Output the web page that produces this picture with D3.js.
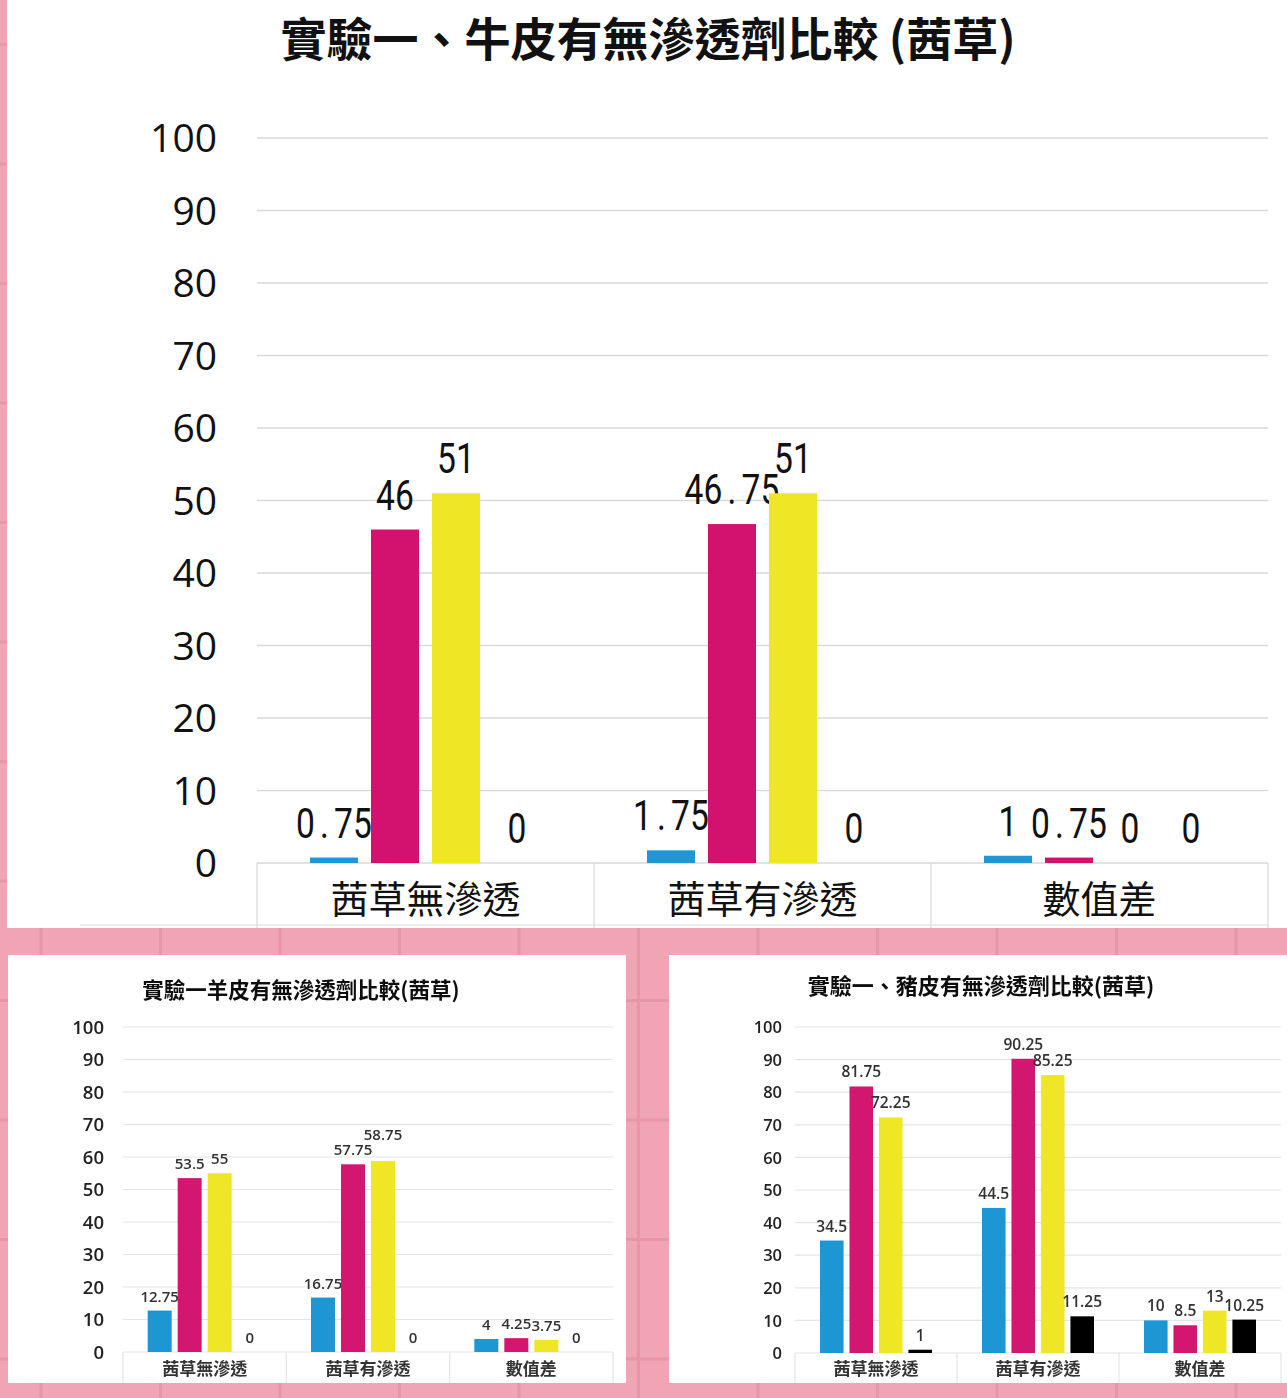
<!DOCTYPE html>
<html>
<head>
<meta charset="utf-8">
<script src="https://cdn.jsdelivr.net/npm/d3@7"></script>
<style>
  html, body { margin: 0; padding: 0; background: #f1a5b4; }
  svg { display: block; }
</style>
</head>
<body>
<svg id="page" width="1287" height="1398"></svg>
<script>
// ---- data ----
const categories = ["茜草無滲透", "茜草有滲透", "數值差"];
const seriesNames = ["s1", "s2", "s3", "s4"];
const seriesColors = ["#1f97d4", "#d3126f", "#efe725", "#050505"];
const yTicks = [0, 10, 20, 30, 40, 50, 60, 70, 80, 90, 100];

// 牛皮 (cow hide)
const cowTitle = "實驗一、牛皮有無滲透劑比較 (茜草)";
const cowBlue    = [0.75, 1.75, 1];
const cowMagenta = [46, 46.75, 0.75];
const cowYellow  = [51, 51, 0];
const cowBlack   = [0, 0, 0];

// 羊皮 (sheep hide)
const sheepTitle = "實驗一羊皮有無滲透劑比較(茜草)";
const sheepBlue    = [12.75, 16.75, 4];
const sheepMagenta = [53.5, 57.75, 4.25];
const sheepYellow  = [55, 58.75, 3.75];
const sheepBlack   = [0, 0, 0];

// 豬皮 (pig hide)
const pigTitle = "實驗一、豬皮有無滲透劑比較(茜草)";
const pigBlue    = [34.5, 44.5, 10];
const pigMagenta = [81.75, 90.25, 8.5];
const pigYellow  = [72.25, 85.25, 13];
const pigBlack   = [1, 11.25, 10.25];

const svg = d3.select("#page");
const W = 1287, H = 1398;

const defs = svg.append("defs");
defs.append("filter").attr("id", "soft")
  .attr("x", "-5%").attr("y", "-5%").attr("width", "110%").attr("height", "110%")
  .append("feGaussianBlur").attr("stdDeviation", 0.45);

// ---- pink grid-paper backdrop ----
svg.append("rect").attr("width", W).attr("height", H).attr("fill", "#f1a4b3");
const gridStep = 119.5;
const bg = svg.append("g").attr("stroke", "#e796a7").attr("stroke-width", 3);
for (let x = 41; x < W; x += gridStep) {
  bg.append("line").attr("x1", x).attr("x2", x).attr("y1", 0).attr("y2", H);
}
for (let y = 1359; y > 0; y -= gridStep) {
  bg.append("line").attr("x1", 0).attr("x2", W).attr("y1", y).attr("y2", y);
}

// ---- white cards ----
const cards = [
  { x: 7, y: 0, w: 1280, h: 928 },
  { x: 8, y: 955, w: 618, h: 428 },
  { x: 669, y: 955, w: 618, h: 428 }
];
svg.selectAll("rect.card").data(cards).join("rect")
  .attr("class", "card")
  .attr("x", d => d.x).attr("y", d => d.y)
  .attr("width", d => d.w).attr("height", d => d.h)
  .attr("fill", "#ffffff");

// ---- grouped bar chart ----
function drawChart(cfg) {
  const g = svg.append("g");
  if (cfg.soft) g.attr("filter", "url(#soft)");
  const series = [cfg.blue, cfg.magenta, cfg.yellow, cfg.black];

  const y = d3.scaleLinear().domain([0, 100]).range([cfg.y0, cfg.y100]);
  const x0 = d3.scaleBand().domain(categories).range([cfg.xL, cfg.xR]).padding(0);
  const bw = x0.bandwidth();
  const x1 = d3.scaleBand().domain(seriesNames)
    .range([(bw - cfg.groupW) / 2, (bw + cfg.groupW) / 2])
    .paddingInner(cfg.barGap).paddingOuter(0);

  // title
  g.append("text")
    .attr("x", cfg.titleX).attr("y", cfg.titleY)
    .attr("text-anchor", "middle").attr("dominant-baseline", "central")
    .attr("font-family", "'Noto Sans CJK TC', 'Noto Sans CJK SC', sans-serif")
    .attr("font-weight", 700).attr("font-size", cfg.titleSize)
    .attr("fill", "#111")
    .text(cfg.title);

  // gridlines
  g.append("g").selectAll("line").data(yTicks).join("line")
    .attr("x1", cfg.xL).attr("x2", cfg.xR)
    .attr("y1", d => y(d)).attr("y2", d => y(d))
    .attr("stroke", cfg.gridColor).attr("stroke-width", cfg.gridWidth);

  // y axis labels
  const yAxis = d3.axisLeft(y).tickValues(yTicks).tickSize(0).tickPadding(0);
  const ya = g.append("g").attr("transform", `translate(${cfg.tickX},0)`).call(yAxis);
  ya.select(".domain").remove();
  ya.selectAll("text")
    .attr("font-family", cfg.tickFont).attr("font-size", cfg.tickSize)
    .attr("font-weight", cfg.tickWeight)
    .attr("fill", cfg.tickColor)
    .attr("dy", "0.35em");

  // category box below the baseline
  const box = g.append("g").attr("stroke", cfg.gridColor).attr("stroke-width", 1.2);
  const dividers = categories.map(c => x0(c)).concat([cfg.xR]);
  box.selectAll("line").data(dividers).join("line")
    .attr("x1", d => d).attr("x2", d => d)
    .attr("y1", y(0)).attr("y2", cfg.boxBottom);
  if (cfg.boxBaseLine) {
    g.append("line")
      .attr("x1", cfg.boxBaseLine.x1).attr("x2", cfg.xR)
      .attr("y1", cfg.boxBaseLine.y).attr("y2", cfg.boxBaseLine.y)
      .attr("stroke", cfg.gridColor).attr("stroke-width", 1.2);
  }

  // category labels
  g.append("g").selectAll("text").data(categories).join("text")
    .attr("x", d => x0(d) + bw / 2).attr("y", cfg.catY)
    .attr("text-anchor", "middle").attr("dominant-baseline", "central")
    .attr("font-family", "'Noto Sans CJK TC', 'Noto Sans CJK SC', sans-serif")
    .attr("font-size", cfg.catSize).attr("font-weight", cfg.catWeight)
    .attr("fill", cfg.catColor)
    .text(d => d);

  // bars
  const groups = g.append("g").selectAll("g").data(categories).join("g")
    .attr("transform", d => `translate(${x0(d)},0)`);
  const cells = groups.selectAll("g.cell")
    .data((c, ci) => seriesNames.map((s, si) => ({ s, si, v: series[si][ci] })))
    .join("g").attr("class", "cell");

  cells.append("rect")
    .attr("x", d => x1(d.s)).attr("width", x1.bandwidth())
    .attr("y", d => y(d.v)).attr("height", d => y(0) - y(d.v))
    .attr("fill", d => seriesColors[d.si]);

  // value labels
  const place = (d, lift) => {
    const cx = x1(d.s) + x1.bandwidth() / 2;
    const cy = y(d.v) - cfg.labelGap - lift;
    return `translate(${cx},${cy}) scale(${cfg.labelScaleX},1)`;
  };
  const labels = cells.append("text")
    .attr("class", "vlabel")
    .attr("text-anchor", "middle")
    .attr("font-family", cfg.labelFont).attr("font-size", cfg.labelSize)
    .attr("font-weight", cfg.labelWeight)
    .attr("fill", cfg.labelColor)
    .attr("transform", d => place(d, 0));

  if (cfg.monoAdvance) {
    // fixed-pitch character cells, like a typewriter face
    labels.each(function (d) {
      const chars = String(d.v).split("");
      const adv = cfg.monoAdvance / cfg.labelScaleX;
      d3.select(this).selectAll("tspan").data(chars).join("tspan")
        .attr("x", (c, i) => (i - (chars.length - 1) / 2) * adv)
        .text(c => c);
    });
  } else {
    labels.text(d => d.v);
  }

  // lift a label one line above its left neighbour when the two collide
  if (cfg.avoid) {
    groups.each(function () {
      const ls = d3.select(this).selectAll("text.vlabel").nodes();
      for (let i = 1; i < ls.length; i++) {
        const a = ls[i - 1].getBoundingClientRect();
        const b = ls[i].getBoundingClientRect();
        const hOverlap = Math.min(a.right, b.right) - Math.max(a.left, b.left);
        const dPrev = d3.select(ls[i - 1]).datum();
        const dCur = d3.select(ls[i]).datum();
        const basePrev = y(dPrev.v) - cfg.labelGap - (dPrev.lift || 0);
        const baseCur = y(dCur.v) - cfg.labelGap;
        if (hOverlap > 3 && Math.abs(basePrev - baseCur) < cfg.labelSize * 0.9) {
          dCur.lift = baseCur - (basePrev - cfg.labelSize * 1.05);
          d3.select(ls[i]).attr("transform", place(dCur, dCur.lift));
        }
      }
    });
  }
}

// cow hide — large chart
drawChart({
  title: cowTitle, titleX: 648, titleY: 36, titleSize: 46,
  blue: cowBlue, magenta: cowMagenta, yellow: cowYellow, black: cowBlack,
  y0: 863, y100: 138, xL: 257, xR: 1268,
  groupW: 231, barGap: 13 / 61,
  gridColor: "#d9d9d9", gridWidth: 1.5,
  tickX: 217, tickFont: "'Open Sans', sans-serif", tickSize: 39, tickWeight: 400, tickColor: "#111",
  boxBottom: 928, boxBaseLine: { x1: 80, y: 925 },
  catY: 896, catSize: 38, catWeight: 400, catColor: "#111",
  labelFont: "Roboto, 'Liberation Sans', sans-serif", labelSize: 43, labelWeight: 400,
  labelColor: "#111", labelGap: 20, labelScaleX: 0.78, monoAdvance: 19
});

// sheep hide — small chart, left
drawChart({
  title: sheepTitle, titleX: 301, titleY: 988, titleSize: 21.5,
  blue: sheepBlue, magenta: sheepMagenta, yellow: sheepYellow, black: sheepBlack,
  y0: 1352, y100: 1027, xL: 123, xR: 613,
  groupW: 114, barGap: 0.2,
  gridColor: "#e4e4e4", gridWidth: 1.2,
  tickX: 104, tickFont: "'Open Sans', sans-serif", tickSize: 18.5, tickWeight: 600, tickColor: "#222",
  boxBottom: 1383, boxBaseLine: null,
  catY: 1367, catSize: 17, catWeight: 700, catColor: "#333",
  labelFont: "'Open Sans', sans-serif", labelSize: 15, labelWeight: 600,
  labelColor: "#333", labelGap: 9, labelScaleX: 1, avoid: true, soft: true
});

// pig hide — small chart, right
drawChart({
  title: pigTitle, titleX: 981, titleY: 984, titleSize: 22,
  blue: pigBlue, magenta: pigMagenta, yellow: pigYellow, black: pigBlack,
  y0: 1353, y100: 1027, xL: 795, xR: 1281,
  groupW: 112, barGap: 0.2,
  gridColor: "#e4e4e4", gridWidth: 1.2,
  tickX: 782, tickFont: "'Open Sans', sans-serif", tickSize: 16.5, tickWeight: 600, tickColor: "#222",
  boxBottom: 1383, boxBaseLine: null,
  catY: 1367, catSize: 17, catWeight: 700, catColor: "#333",
  labelFont: "'Open Sans', sans-serif", labelSize: 15.5, labelWeight: 600,
  labelColor: "#333", labelGap: 9, labelScaleX: 1, avoid: true, soft: true
});
</script>
</body>
</html>
